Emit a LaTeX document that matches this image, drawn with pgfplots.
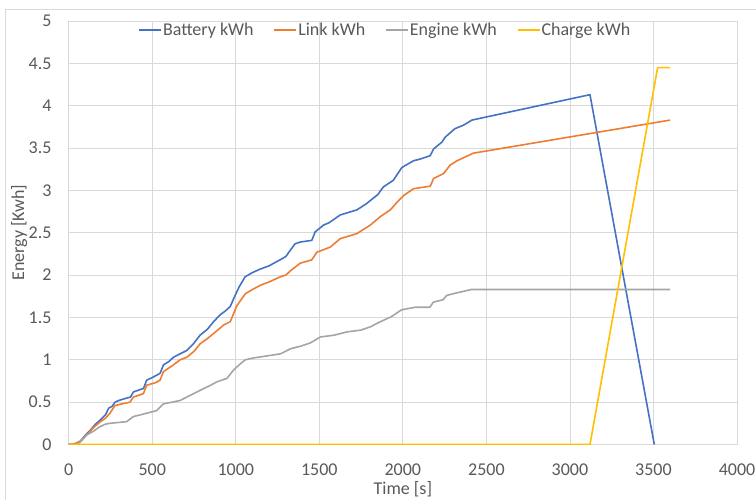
\documentclass[border=0pt]{standalone}
\usepackage{fontspec}
\setmainfont{Carlito}
\usepackage{pgfplots}
\pgfplotsset{compat=1.18}
\definecolor{cBat}{HTML}{4472C4}
\definecolor{cLink}{HTML}{ED7D31}
\definecolor{cEng}{HTML}{A5A5A5}
\definecolor{cChg}{HTML}{FFC000}
\definecolor{cGrid}{HTML}{D9D9D9}
\definecolor{cText}{HTML}{595959}
\begin{document}
\begin{tikzpicture}
\path[use as bounding box] (-68.7bp,-55.5bp) rectangle (687.3bp,444.5bp);
\draw[cGrid, line width=0.8bp] (-63.7bp,-60bp) -- (-63.7bp,435.5bp) -- (700bp,435.5bp);
\begin{axis}[
  scale only axis,
  width=668.3bp, height=423.5bp,
  xmin=0, xmax=4000, ymin=0, ymax=5,
  xtick={0,500,...,4000},
  ytick={0,0.5,...,5},
  grid=major,
  grid style={cGrid, line width=0.8bp},
  axis line style={cGrid, line width=0.8bp},
  major tick length=0pt,
  font=\fontsize{18bp}{21bp}\selectfont,
  every tick label/.append style={text=cText},
  /pgf/number format/assume math mode=true,
  /pgf/number format/1000 sep={},
  yticklabel style={anchor=east, inner sep=0pt, xshift=-17bp},
  xticklabel style={anchor=north, inner sep=0pt, yshift=-18.8bp},
  xlabel={Time [s]},
  ylabel={Energy [Kwh]},
  every axis x label/.style={at={([yshift=-50bp]axis description cs:0.5,0)}, anchor=base, text=cText},
  every axis y label/.style={at={([xshift=-44.5bp]axis description cs:0,0.5)}, anchor=base, rotate=90, text=cText},
  legend columns=4,
  legend style={at={(axis description cs:0.473,0.979)}, anchor=center, draw=none, fill=none,
    text=cText, inner xsep=0pt, inner ysep=0pt,
    nodes={inner xsep=1bp, inner ysep=0pt},
    /tikz/every even column/.append style={column sep=19bp}},
  legend image code/.code={\draw[#1] (0bp,0bp) -- (22bp,0bp);},
  every axis plot/.append style={line width=1.6bp, line join=round},
]
\addplot[cBat] coordinates {
(0,0) (40,0.01) (70,0.04) (100,0.11) (130,0.17) (160,0.24) (190,0.29) (220,0.35)
(240,0.43) (260,0.45) (277,0.50) (300,0.52) (350,0.55) (370,0.56) (387,0.62)
(430,0.65) (447,0.66) (467,0.76) (500,0.79) (547,0.84) (567,0.94) (600,0.98)
(627,1.03) (666,1.07) (707,1.11) (747,1.19) (786,1.29) (830,1.36) (867,1.45)
(906,1.53) (940,1.58) (967,1.63) (996,1.76) (1020,1.86) (1056,1.98) (1100,2.03)
(1145,2.07) (1200,2.11) (1265,2.18) (1300,2.22) (1325,2.29) (1355,2.37) (1385,2.39)
(1455,2.41) (1475,2.51) (1525,2.59) (1560,2.62) (1625,2.71) (1725,2.77) (1780,2.84)
(1805,2.88) (1850,2.95) (1883,3.04) (1943,3.12) (1994,3.27) (2064,3.35) (2104,3.37)
(2164,3.41) (2184,3.49) (2234,3.57) (2254,3.63) (2313,3.73) (2363,3.77) (2413,3.83)
(3120,4.13) (3505,0)
};
\addlegendentry{Battery kWh}
\addplot[cLink] coordinates {
(0,0) (40,0.01) (70,0.04) (100,0.10) (130,0.16) (160,0.22) (190,0.27) (220,0.31)
(247,0.37) (277,0.46) (320,0.48) (367,0.50) (387,0.56) (447,0.60) (467,0.70)
(520,0.73) (547,0.76) (567,0.86) (620,0.93) (667,1.00) (707,1.03) (750,1.10)
(787,1.19) (830,1.25) (867,1.31) (927,1.41) (967,1.45) (1007,1.64) (1057,1.78)
(1100,1.83) (1147,1.88) (1200,1.92) (1267,1.98) (1300,2.00) (1327,2.05) (1385,2.14)
(1455,2.18) (1485,2.27) (1565,2.33) (1625,2.43) (1725,2.49) (1805,2.59) (1865,2.69)
(1925,2.77) (1965,2.86) (2005,2.94) (2064,3.02) (2164,3.05) (2184,3.14) (2244,3.20)
(2284,3.30) (2324,3.35) (2423,3.44) (3600,3.83)
};
\addlegendentry{Link kWh}
\addplot[cEng] coordinates {
(0,0) (47,0.0) (70,0.03) (107,0.11) (150,0.16) (187,0.21) (220,0.24) (247,0.25)
(347,0.27) (387,0.33) (430,0.35) (467,0.37) (527,0.40) (567,0.48) (620,0.50)
(667,0.52) (727,0.58) (767,0.62) (807,0.66) (850,0.70) (887,0.74) (947,0.78)
(987,0.88) (1020,0.94) (1057,1.00) (1100,1.02) (1167,1.04) (1267,1.07) (1327,1.13)
(1387,1.16) (1447,1.20) (1507,1.27) (1587,1.29) (1667,1.33) (1747,1.35) (1807,1.39)
(1855,1.44) (1932,1.51) (1992,1.59) (2072,1.62) (2162,1.62) (2182,1.68) (2242,1.71)
(2262,1.76) (2322,1.79) (2411,1.83) (3600,1.83)
};
\addlegendentry{Engine kWh}
\addplot[cChg] coordinates {
(0,0) (3120,0) (3525,4.45) (3600,4.45)
};
\addlegendentry{Charge kWh}
\end{axis}
\end{tikzpicture}
\end{document}
